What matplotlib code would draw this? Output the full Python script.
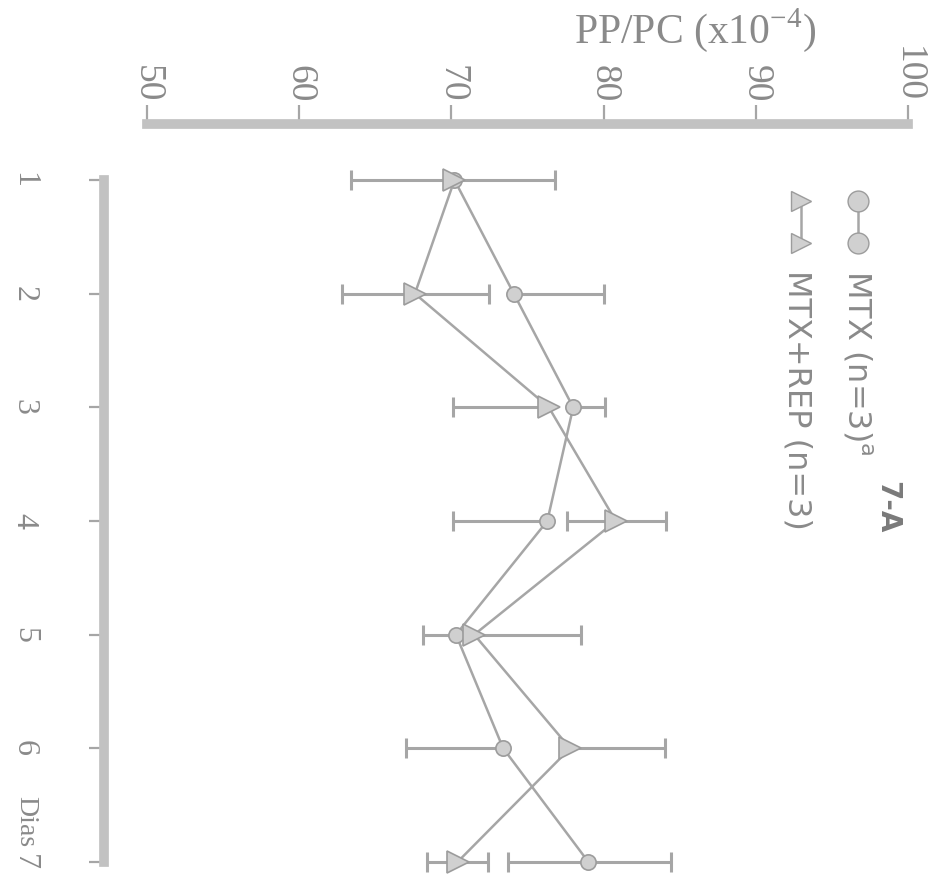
import numpy as np
import matplotlib.pyplot as plt
from matplotlib.lines import Line2D

# dados (PP/PC x 10^-4 por dia)
dias = [1, 2, 3, 4, 5, 6, 7]
mtx = [70.2, 74.1, 78.0, 76.3, 70.3, 73.4, 79.0]
mtx_inf = [0.0, 0.0, 0.0, 6.2, 2.2, 6.4, 5.3]
mtx_sup = [0.0, 5.9, 2.1, 0.0, 0.0, 0.0, 5.4]
rep = [70.2, 67.6, 76.4, 80.8, 71.5, 77.8, 70.4]
rep_inf = [6.8, 4.8, 6.3, 3.2, 0.0, 0.0, 2.0]
rep_sup = [6.6, 4.9, 0.0, 3.3, 7.0, 6.2, 2.0]
xticks = [50, 60, 70, 80, 90, 100]

cinza = '#a6a6a6'
texto = '#8a8a8a'
preenchimento = '#d0d0d0'
borda = '#9c9c9c'

fig = plt.figure(figsize=(9.34, 8.82), dpi=100)
ax = fig.add_axes([0.1574, 0.0227, 0.8148, 0.7732])


def barras(ax, y, x, inf, sup):
    y = np.array(y, dtype=float)
    x = np.array(x, dtype=float)
    inf = np.array(inf)
    sup = np.array(sup)
    ax.hlines(y, x - inf, x + sup, color=cinza, lw=2.2, zorder=2, clip_on=False)
    m = inf > 0
    ax.plot(x[m] - inf[m], y[m], ls='none', marker='|', ms=14, mew=2.2,
            color=cinza, zorder=2, clip_on=False)
    m = sup > 0
    ax.plot(x[m] + sup[m], y[m], ls='none', marker='|', ms=14, mew=2.2,
            color=cinza, zorder=2, clip_on=False)


barras(ax, dias, mtx, mtx_inf, mtx_sup)
barras(ax, dias, rep, rep_inf, rep_sup)

ax.plot(mtx, dias, color=cinza, lw=1.8, marker='o', ms=11, mfc=preenchimento,
        mec=borda, mew=1.2, zorder=3, clip_on=False)
ax.plot(rep, dias, color=cinza, lw=1.8, marker='>', ms=16, mfc=preenchimento,
        mec=borda, mew=1.2, zorder=4, clip_on=False)

ax.set_xlim(50, 100)
ax.set_ylim(7, 1)

# eixos destacados (estilo da figura original, girada)
for s in ['right', 'bottom']:
    ax.spines[s].set_visible(False)
ax.spines['top'].set_position(('outward', 40))
ax.spines['left'].set_position(('outward', 31))
for s in ['top', 'left']:
    ax.spines[s].set_linewidth(7)
    ax.spines[s].set_color('#c2c2c2')

ax.xaxis.tick_top()
ax.set_xticks(xticks)
ax.set_xticklabels([str(v) for v in xticks], rotation=-90, family='Liberation Serif',
                   fontsize=27, color=texto)
ax.set_yticks(dias)
ax.set_yticklabels([str(d) for d in dias], rotation=-90, family='Liberation Serif',
                   fontsize=23, color=texto, va='center')
ax.tick_params(axis='x', direction='out', length=14, width=1.6, color=cinza, pad=2)
ax.tick_params(axis='y', direction='out', length=11, width=1.6, color=cinza, pad=36)

fig.text(0.744, 0.966, r'PP/PC (x10$^{\mathregular{-4}}$)', family='Liberation Serif',
         fontsize=30, color=texto, ha='center', va='center')
fig.text(0.028, 0.068, 'Dias', family='Liberation Serif', fontsize=20, color=texto,
         rotation=-90, ha='center', va='center')

# legenda desenhada a mao, como no original
fig.add_artist(Line2D([0.9186, 0.9186], [0.772, 0.7245], color=cinza, lw=1.8,
                      marker='o', ms=15, mfc=preenchimento, mec=borda))
fig.add_artist(Line2D([0.8576, 0.8576], [0.772, 0.7245], color=cinza, lw=1.8,
                      marker='>', ms=15, mfc=preenchimento, mec=borda))
fig.text(0.9176, 0.694, r'MTX (n=3)$^{\mathregular{a}}$', fontsize=23, color=texto,
         rotation=-90, ha='center', va='top')
fig.text(0.8533, 0.694, 'MTX+REP (n=3)', fontsize=23, color=texto,
         rotation=-90, ha='center', va='top')
fig.text(0.950, 0.425, '7-A', fontsize=20, color='#7a7a7a', fontweight='bold',
         rotation=-90, ha='center', va='center')

fig.savefig('out.png', dpi=100, facecolor='white')
